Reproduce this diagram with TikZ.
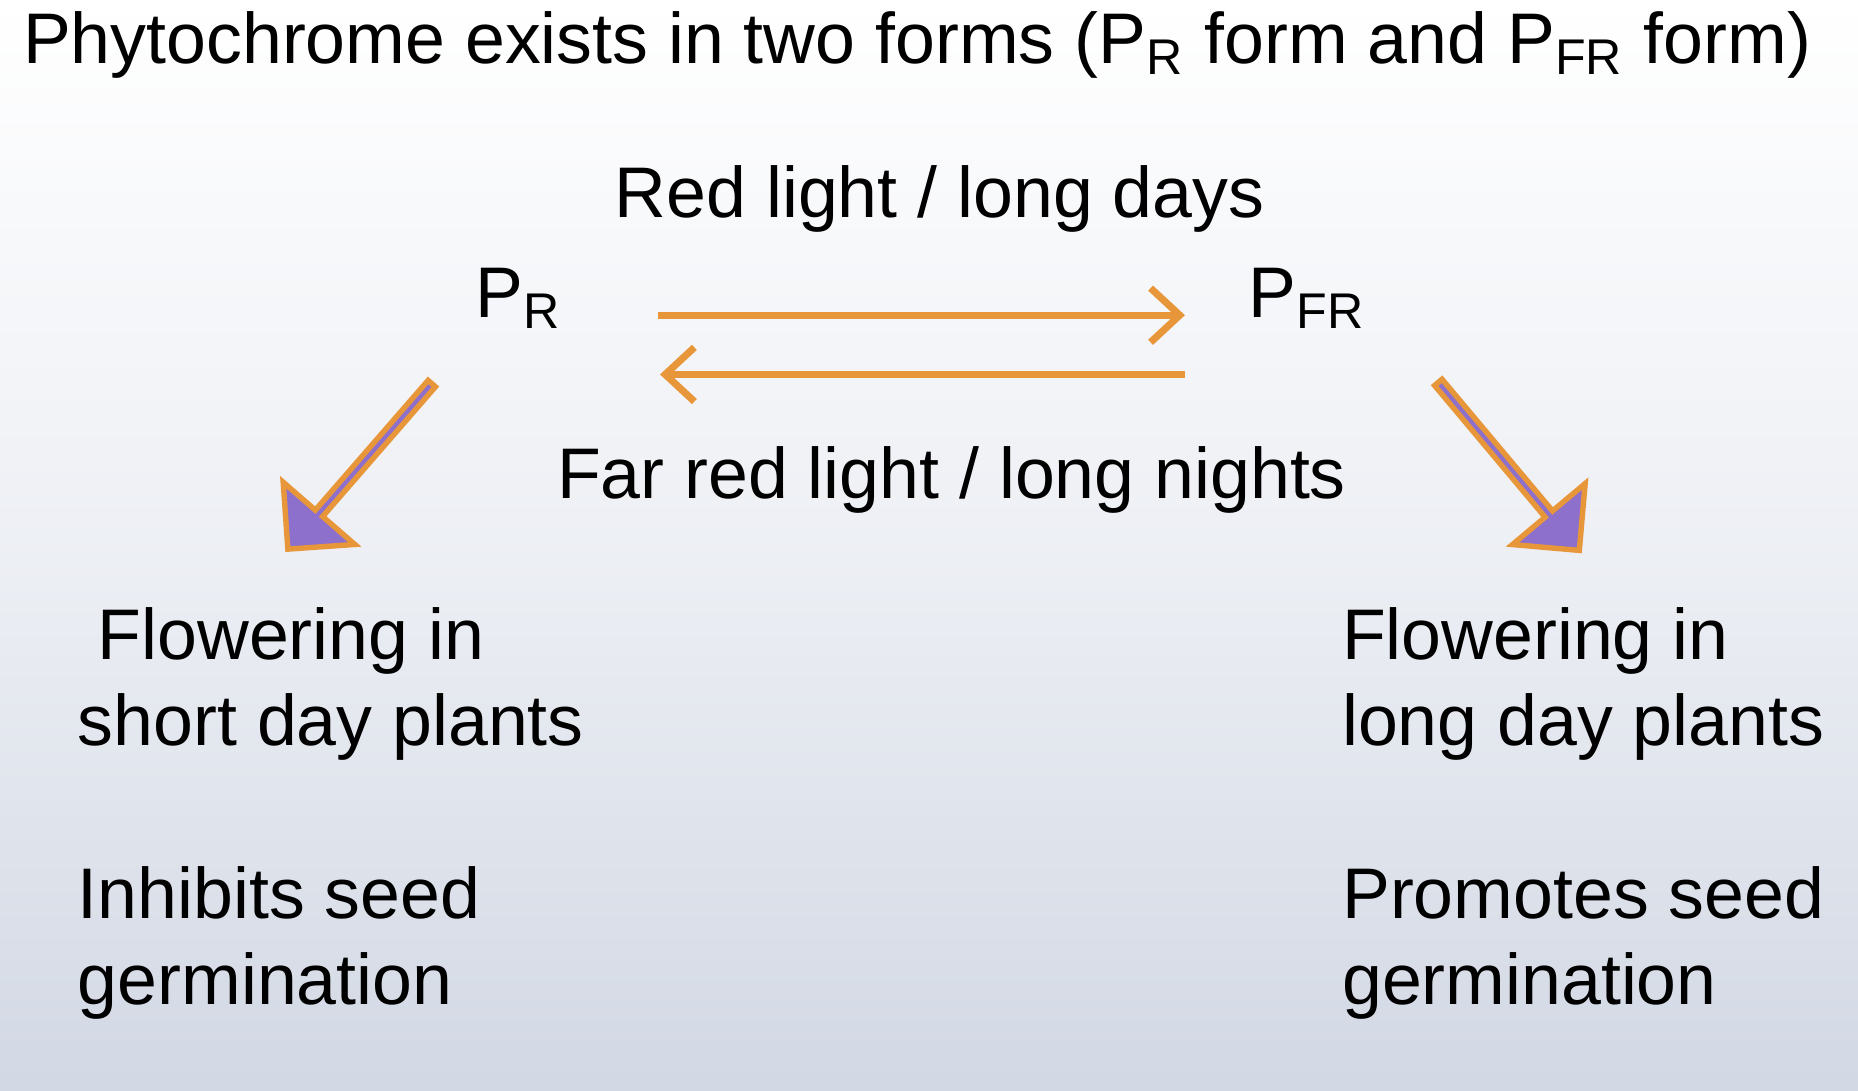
\documentclass[tikz,border=0pt]{standalone}
\usepackage{fontspec}
\setmainfont{Liberation Sans}
\usetikzlibrary{arrows.meta,shapes.arrows}
\definecolor{arrorange}{HTML}{E8963A}
\definecolor{arrpurple}{HTML}{8D6FCC}
\definecolor{bgbottom}{HTML}{D2D8E4}

\begin{document}
\begin{tikzpicture}[
    x=0.01cm, y=-0.01cm,
    txt/.style={font=\fontsize{17.2}{20.6}\selectfont, inner sep=0pt},
    body/.style={txt, align=left, anchor=north west},
    swap/.style={draw=arrorange, line width=1.7pt, -{Straight Barb[length=7pt, width=13pt, line width=1.7pt]}},
    fatarrow/.style={single arrow, draw=arrorange, line width=1.3pt, fill=arrpurple,
      minimum width=0.8cm, single arrow head extend=0.2cm, single arrow head indent=0cm,
      minimum height=1.85cm, inner sep=0pt}
  ]
  % background
  \shade[top color=white, bottom color=bgbottom, middle color=white!60!bgbottom]
    (0,0) rectangle (1568,920);
  \useasboundingbox (0,0) rectangle (1568,920);

  % title and forms
  \node[txt, font=\fontsize{17.2}{20}\selectfont] (title) at (774,38)
    {Phytochrome exists in two forms (P\textsubscript{R} form and P\textsubscript{FR} form)};
  \node[txt] (red) at (793,168) {Red light / long days};
  \node[txt] (pr) at (438,252) {P\textsubscript{R}};
  \node[txt] (pfr) at (1103,252) {P\textsubscript{FR}};
  \node[txt] (farred) at (803,405) {Far red light / long nights};

  % conversion arrows
  \coordinate (topstart) at (555,266);
  \coordinate (topend) at (1000,266);
  \coordinate (botstart) at (1000,316);
  \coordinate (botend) at (557,316);
  \draw[swap] (topstart) -- (topend);
  \draw[swap] (botstart) -- (botend);

  % effect arrows
  \node[fatarrow, rotate=229] (leftarr) at (305,392) {};
  \node[fatarrow, rotate=310] (rightarr) at (1272,392) {};

  % effects
  \node[body] (shortday) at (65,512) {\ Flowering in\\short day plants};
  \node[body] (inhibit) at (65,731) {Inhibits seed\\germination};
  \node[body] (longday) at (1132,512) {Flowering in\\long day plants};
  \node[body] (promote) at (1132,731) {Promotes seed\\germination};
\end{tikzpicture}
\end{document}
